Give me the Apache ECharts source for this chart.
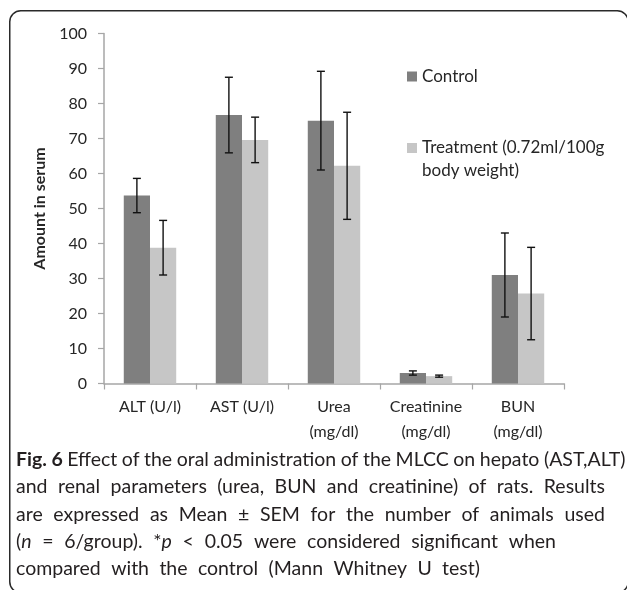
<!DOCTYPE html>
<html>
<head>
<meta charset="utf-8">
<script src="https://cdn.jsdelivr.net/npm/echarts@6/dist/echarts.min.js"></script>
<style>
  html, body { margin: 0; padding: 0; background: #fff; }
  #chart { width: 627px; height: 590px; }
</style>
</head>
<body>
<div id="chart"></div>
<script>
// Serum parameters (mean ± SEM, n = 6/group)
const categories = ['ALT (U/l)', 'AST (U/l)', 'Urea\n(mg/dl)', 'Creatinine\n(mg/dl)', 'BUN\n(mg/dl)'];
const controlName = 'Control';
const treatmentName = 'Treatment (0.72ml/100g body weight)';
const controlMean = [53.7, 76.7, 75.1, 3.0, 31.0];
const controlSem = [4.9, 10.8, 14.1, 0.6, 12.0];
const treatmentMean = [38.8, 69.6, 62.2, 2.1, 25.7];
const treatmentSem = [7.8, 6.5, 15.3, 0.3, 13.2];
const yTicks = { min: 0, max: 100, interval: 10 };

// Caption, one entry per printed line; {b|..} bold, {i|..} italic
const captionLines = [
  '{b|Fig.} {b|6} Effect of the oral administration of the MLCC on hepato (AST,ALT)',
  'and renal parameters (urea, BUN and creatinine) of rats. Results',
  'are expressed as Mean \u00b1 SEM for the number of animals used',
  '({i|n} = 6/group). *{i|p} < 0.05 were considered significant when',
  'compared with the control (Mann Whitney U test)'
];
const captionLineEnds = [623, 605, 605, 556, 480];

const CAT_GAP = 0.43;
const FONT = 'Lato';
const TEXT = '#262626';

const chart = echarts.init(document.getElementById('chart'), null, { renderer: 'canvas' });

// Error bar series: [categoryIndex, low, high]
function errorData(mean, sem) {
  return mean.map((m, i) => [i, m - sem[i], m + sem[i]]);
}
function errorRenderer(side) {
  return function (params, api) {
    const i = api.value(0);
    const band = api.size([1, 0])[0];
    const barW = band * (1 - CAT_GAP) / 2;
    const hiPt = api.coord([i, api.value(2)]);
    const loPt = api.coord([i, api.value(1)]);
    const x = hiPt[0] + side * barW / 2;
    const cap = 4;
    const style = { stroke: '#111', lineWidth: 1.4 };
    return {
      type: 'group',
      children: [
        { type: 'line', shape: { x1: x, y1: hiPt[1], x2: x, y2: loPt[1] }, style },
        { type: 'line', shape: { x1: x - cap, y1: hiPt[1], x2: x + cap, y2: hiPt[1] }, style },
        { type: 'line', shape: { x1: x - cap, y1: loPt[1], x2: x + cap, y2: loPt[1] }, style }
      ]
    };
  };
}

// Justified caption built from word pieces
const measureCtx = document.createElement('canvas').getContext('2d');
const CAP_SIZE = 19.5;
const CAP_LEFT = 16;
const CAP_TOP = 460;
const CAP_LH = 27.2;
function pieceFont(kind) {
  const w = kind === 'b' ? 'bold ' : '';
  const s = kind === 'i' ? 'italic ' : '';
  return s + w + CAP_SIZE + 'px ' + FONT;
}
function parseWord(word) {
  const pieces = [];
  const re = /\{(\w)\|([^}]*)\}|([^{]+)/g;
  let m;
  while ((m = re.exec(word))) {
    if (m[3] !== undefined) pieces.push({ kind: 'r', text: m[3] });
    else pieces.push({ kind: m[1], text: m[2] });
  }
  return pieces;
}
const captionGraphics = [];
captionLines.forEach((line, li) => {
  const words = line.split(' ').map(parseWord);
  const widths = words.map(ps => ps.reduce((acc, p) => {
    measureCtx.font = pieceFont(p.kind);
    p.w = measureCtx.measureText(p.text).width;
    return acc + p.w;
  }, 0));
  const total = widths.reduce((a, b) => a + b, 0);
  const gap = Math.max(4.5, (captionLineEnds[li] - CAP_LEFT - total) / (words.length - 1));
  let x = CAP_LEFT;
  const y = CAP_TOP + li * CAP_LH;
  words.forEach((ps, wi) => {
    let px = x;
    ps.forEach(p => {
      captionGraphics.push({
        type: 'text',
        x: px, y: y,
        style: {
          text: p.text,
          font: pieceFont(p.kind),
          fill: '#231f20',
          verticalAlign: 'middle',
          align: 'left'
        }
      });
      px += p.w;
    });
    x += widths[wi] + gap;
  });
});

const option = {
  backgroundColor: '#ffffff',
  animation: false,
  textStyle: { fontFamily: FONT },
  grid: { left: 104, right: 63, top: 33.5, bottom: 206.5, containLabel: false },
  legend: [
    {
      data: [controlName],
      left: 407, top: 68,
      orient: 'vertical',
      padding: 0,
      itemWidth: 10, itemHeight: 10,
      icon: 'rect',
      textStyle: { fontSize: 17, color: TEXT, fontFamily: FONT }
    },
    {
      data: [treatmentName],
      left: 407, top: 113.5,
      orient: 'vertical',
      padding: 0,
      itemWidth: 10, itemHeight: 10,
      icon: 'rect',
      // empty first line keeps the marker level with the first text line
      formatter: () => '\nTreatment (0.72ml/100g\nbody weight)',
      textStyle: { fontSize: 17, lineHeight: 23, color: TEXT, fontFamily: FONT }
    }
  ],
  xAxis: {
    type: 'category',
    data: categories,
    axisLine: { lineStyle: { color: '#a6a6a6', width: 1.5 } },
    axisTick: { show: true, length: 6, lineStyle: { color: '#a6a6a6', width: 1.2 } },
    axisLabel: { interval: 0, fontSize: 16, lineHeight: 25, color: TEXT, margin: 11, fontFamily: FONT }
  },
  yAxis: {
    type: 'value',
    min: yTicks.min, max: yTicks.max, interval: yTicks.interval,
    name: 'Amount in serum',
    nameLocation: 'middle',
    nameGap: 56,
    nameTextStyle: { fontSize: 16, fontWeight: 'bold', color: TEXT, fontFamily: FONT },
    axisLine: { show: true, lineStyle: { color: '#a6a6a6', width: 1.5 } },
    axisTick: { show: true, length: 6, lineStyle: { color: '#a6a6a6', width: 1.2 } },
    axisLabel: { fontSize: 16, color: TEXT, margin: 17, fontFamily: FONT },
    splitLine: { show: false }
  },
  series: [
    {
      name: controlName, type: 'bar', data: controlMean,
      itemStyle: { color: '#7f7f7f' },
      barGap: '0%', barCategoryGap: (CAT_GAP * 100) + '%'
    },
    {
      name: treatmentName, type: 'bar', data: treatmentMean,
      itemStyle: { color: '#c6c6c6' },
      barGap: '0%', barCategoryGap: (CAT_GAP * 100) + '%'
    },
    {
      type: 'custom', name: 'controlErr', z: 5,
      renderItem: errorRenderer(-1),
      data: errorData(controlMean, controlSem),
      encode: { x: 0, y: [1, 2] }
    },
    {
      type: 'custom', name: 'treatmentErr', z: 5,
      renderItem: errorRenderer(1),
      data: errorData(treatmentMean, treatmentSem),
      encode: { x: 0, y: [1, 2] }
    }
  ],
  graphic: [
    {
      type: 'rect',
      shape: { x: 9.75, y: 10.75, width: 618.5, height: 582, r: 11 },
      style: { fill: 'none', stroke: '#2a2a2a', lineWidth: 1.5 },
      silent: true
    }
  ].concat(captionGraphics)
};

chart.setOption(option);
</script>
</body>
</html>
